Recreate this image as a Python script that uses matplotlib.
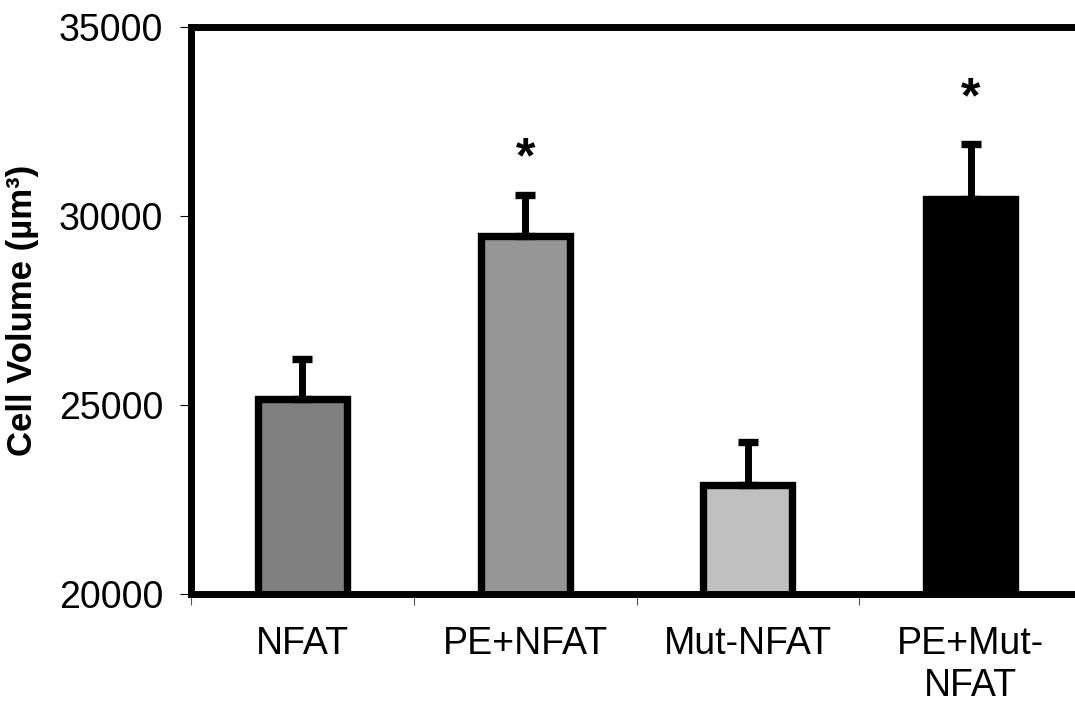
import matplotlib
matplotlib.use("Agg")
import matplotlib.pyplot as plt
import numpy as np

# data
groups = ["NFAT", "PE+NFAT", "Mut-NFAT", "PE+Mut-\nNFAT"]
means = [25160, 29470, 22880, 30450]
sems = [1060, 1080, 1150, 1450]
colors = ["#808080", "#969696", "#c0c0c0", "#000000"]
significant = [False, True, False, True]
star_offset = [0, 960, 0, 1200]

plt.rcParams['font.family'] = ['Liberation Sans', 'DejaVu Sans']

fig = plt.figure(figsize=(10.75, 7.02), dpi=100)
ax = fig.add_axes([0.1777, 0.1538, 0.8288, 0.8073])

x = np.arange(len(groups))
ax.bar(x, means, width=0.40, color=colors, edgecolor="black", linewidth=5.3, zorder=2)

# upper error bars only
ax.errorbar(x, means, yerr=[np.zeros(len(sems)), sems], fmt="none", ecolor="black",
            elinewidth=5.0, capsize=7.5, capthick=5.3, zorder=3)

# significance stars
for xi, m, s, sig, off in zip(x, means, sems, significant, star_offset):
    if sig:
        ax.text(xi, m + s + off, "*", ha="center", va="center", fontsize=36, fontweight="bold")

ax.set_xlim(-0.5, 3.5)
ax.set_ylim(20000, 35000)
ax.set_yticks([20000, 25000, 30000, 35000])
ax.set_xticks(x)
ax.set_xticklabels(groups, fontsize=27)
ax.set_xticks(np.arange(-0.5, 4.0, 1.0), minor=True)
ax.tick_params(axis="x", which="major", length=0, pad=23)
ax.tick_params(axis="x", which="minor", length=8, width=0.8, color="#555555")
ax.tick_params(axis="y", which="major", length=8, width=0.8, labelsize=27, pad=12)

for sp in ax.spines.values():
    sp.set_linewidth(5.0)
    sp.set_color("black")

ax.set_ylabel("Cell Volume (µm³)", fontsize=25, fontweight="bold", labelpad=14)

fig.savefig("out.png", dpi=100)
